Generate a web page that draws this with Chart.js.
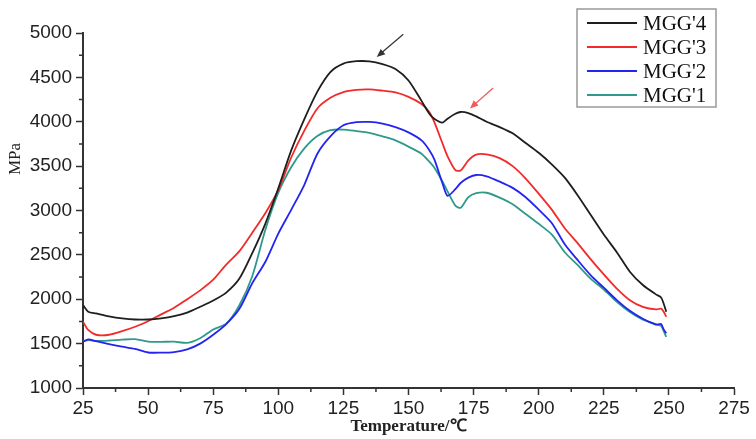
<!DOCTYPE html>
<html lang="en">
<head>
<meta charset="UTF-8">
<title>MGG modulus vs temperature</title>
<script src="https://cdn.jsdelivr.net/npm/chart.js"></script>
<style>
    body { margin: 0; background: #fff; }
    #wrap { width: 756px; height: 439px; }
</style>
</head>
<body>
<div id="wrap"><canvas id="chart"></canvas></div>
<script>
    // temperature grid (℃)
    const temps = [25, 27, 30, 35, 40, 45, 50, 55, 60, 65, 70, 75, 80, 85, 90, 95, 100, 105, 110, 115, 120,
        125, 130, 135, 140, 145, 150, 155, 158, 160, 163, 165, 168, 170, 173, 176, 180, 185, 190, 195, 200,
        205, 210, 215, 220, 225, 230, 235, 240, 245, 247, 248, 249];

    // MPa values
    const mgg4 = [1935, 1860, 1840, 1808, 1785, 1772, 1772, 1785, 1810, 1850, 1915, 1985, 2075, 2230, 2520, 2850, 3250,
        3680, 4030, 4340, 4560, 4655, 4682, 4680, 4650, 4595, 4465, 4235, 4090, 4030, 3990, 4035, 4090, 4110, 4098, 4060,
        4000, 3940, 3870, 3760, 3650, 3520, 3370, 3170, 2950, 2730, 2530, 2310, 2160, 2055, 2020, 1950, 1860];
    const mgg3 = [1747, 1654, 1600, 1600, 1640, 1690, 1752, 1830, 1905, 2000, 2100, 2220, 2390, 2540, 2750, 2970, 3230,
        3600, 3900, 4150, 4270, 4335, 4360, 4365, 4350, 4330, 4280, 4200, 4110, 3990, 3760, 3610, 3455, 3450, 3565, 3630,
        3632, 3590, 3500, 3360, 3190, 3010, 2800, 2630, 2450, 2280, 2120, 1990, 1915, 1885, 1895, 1860, 1803];
    const mgg2 = [1520, 1548, 1528, 1495, 1465, 1440, 1400, 1398, 1405, 1435, 1500, 1600, 1720, 1890, 2180, 2420, 2740,
        3010, 3290, 3640, 3835, 3960, 3995, 3998, 3980, 3940, 3880, 3790, 3680, 3570, 3310, 3165, 3240, 3310, 3370, 3400,
        3385, 3325, 3255, 3150, 3010, 2860, 2620, 2440, 2270, 2130, 1990, 1870, 1780, 1715, 1720, 1660, 1617];
    const mgg1 = [1525, 1540, 1530, 1535, 1545, 1550, 1522, 1520, 1522, 1508, 1560, 1660, 1725, 1930, 2260, 2780, 3200,
        3490, 3700, 3840, 3905, 3912, 3895, 3875, 3835, 3790, 3720, 3640, 3550, 3480, 3330, 3215, 3055, 3030, 3150, 3195,
        3200, 3145, 3070, 2960, 2850, 2730, 2530, 2385, 2230, 2110, 1970, 1855, 1770, 1720, 1700, 1640, 1575];

    const seriesNames = ["MGG'4", "MGG'3", "MGG'2", "MGG'1"];
    const seriesData = [mgg4, mgg3, mgg2, mgg1];
    const seriesColors = ['#1e1e1e', '#f22a2a', '#2424f0', '#2f9a8c'];

    // axis ticks
    const xTicks = [25, 50, 75, 100, 125, 150, 175, 200, 225, 250, 275];
    const yTicks = [1000, 1500, 2000, 2500, 3000, 3500, 4000, 4500, 5000];

    // arrows: [tailT, tailMPa, headT, headMPa]
    const arrowBlack = [148, 4985, 137.8, 4730];
    const arrowRed = [182.5, 4380, 173.6, 4150];

    function drawArrow(ctx, xs, ys, a, color) {
        const x1 = xs.getPixelForValue(a[0]), y1 = ys.getPixelForValue(a[1]);
        const x2 = xs.getPixelForValue(a[2]), y2 = ys.getPixelForValue(a[3]);
        const ang = Math.atan2(y2 - y1, x2 - x1);
        ctx.strokeStyle = color;
        ctx.fillStyle = color;
        ctx.lineWidth = 1.2;
        ctx.beginPath();
        ctx.moveTo(x1, y1);
        ctx.lineTo(x2 - 6 * Math.cos(ang), y2 - 6 * Math.sin(ang));
        ctx.stroke();
        ctx.beginPath();
        ctx.moveTo(x2, y2);
        ctx.lineTo(x2 - 9 * Math.cos(ang - 0.4), y2 - 9 * Math.sin(ang - 0.4));
        ctx.lineTo(x2 - 9 * Math.cos(ang + 0.4), y2 - 9 * Math.sin(ang + 0.4));
        ctx.closePath();
        ctx.fill();
    }

    const extras = {
        id: 'extras',
        afterDraw(chart) {
            const ctx = chart.ctx;
            const xs = chart.scales.x, ys = chart.scales.y;
            ctx.save();

            // minor ticks
            ctx.strokeStyle = '#333';
            ctx.lineWidth = 1.5;
            ctx.beginPath();
            for (let i = 0; i < yTicks.length - 1; i++) {
                const y = ys.getPixelForValue((yTicks[i] + yTicks[i + 1]) / 2);
                ctx.moveTo(xs.left, y);
                ctx.lineTo(xs.left - 4, y);
            }
            for (let i = 0; i < xTicks.length - 1; i++) {
                const x = xs.getPixelForValue((xTicks[i] + xTicks[i + 1]) / 2);
                ctx.moveTo(x, ys.bottom);
                ctx.lineTo(x, ys.bottom + 4);
            }
            ctx.stroke();

            // y axis title sits above the middle in the original
            ctx.save();
            ctx.translate(16, 159);
            ctx.rotate(-Math.PI / 2);
            ctx.font = '17px "Liberation Serif", serif';
            ctx.fillStyle = '#222';
            ctx.textAlign = 'center';
            ctx.textBaseline = 'middle';
            ctx.fillText('MPa', 0, 0);
            ctx.restore();

            drawArrow(ctx, xs, ys, arrowBlack, '#333');
            drawArrow(ctx, xs, ys, arrowRed, '#f05a5a');

            // legend box
            const bx = 577, by = 9, bw = 139, bh = 98;
            ctx.fillStyle = '#fff';
            ctx.fillRect(bx, by, bw, bh);
            ctx.strokeStyle = '#999';
            ctx.lineWidth = 1.5;
            ctx.strokeRect(bx, by, bw, bh);
            ctx.font = '21px "Liberation Serif", serif';
            ctx.textBaseline = 'middle';
            seriesNames.forEach((name, i) => {
                const y = by + 14 + i * 24;
                ctx.strokeStyle = seriesColors[i];
                ctx.lineWidth = 2;
                ctx.beginPath();
                ctx.moveTo(bx + 10, y);
                ctx.lineTo(bx + 60, y);
                ctx.stroke();
                ctx.fillStyle = '#111';
                ctx.fillText(name, bx + 66, y + 1);
            });
            ctx.restore();
        }
    };

    const tickFont = { family: '"Liberation Sans", Arial, sans-serif', size: 19 };

    new Chart(document.getElementById('chart'), {
        type: 'line',
        data: {
            datasets: seriesNames.map((name, i) => ({
                label: name,
                data: temps.map((t, j) => ({ x: t, y: seriesData[i][j] })),
                borderColor: seriesColors[i],
                backgroundColor: seriesColors[i],
                fill: false
            }))
        },
        options: {
            animation: false,
            responsive: true,
            maintainAspectRatio: false,
            layout: { padding: { top: 33, right: 22, left: 0, bottom: 0 } },
            elements: {
                point: { radius: 0 },
                line: { borderWidth: 1.8, tension: 0.25 }
            },
            plugins: {
                legend: { display: false },
                tooltip: { enabled: false }
            },
            scales: {
                x: {
                    type: 'linear',
                    min: 25,
                    max: 275,
                    afterBuildTicks: s => { s.ticks = xTicks.map(v => ({ value: v })); },
                    ticks: { font: tickFont, color: '#222', padding: 2, maxRotation: 0, autoSkip: false, callback: v => String(v) },
                    grid: { drawOnChartArea: false, tickLength: 7, tickColor: '#333', tickWidth: 1.5 },
                    border: { color: '#333', width: 2 },
                    title: {
                        display: true,
                        text: 'Temperature/℃',
                        font: { family: '"Liberation Serif", serif', size: 17, weight: 'bold' },
                        color: '#222',
                        padding: { top: 0, bottom: 2 }
                    },
                    afterFit: s => { s.height = 51; }
                },
                y: {
                    min: 1000,
                    max: 5000,
                    afterBuildTicks: s => { s.ticks = yTicks.map(v => ({ value: v })); },
                    ticks: { font: tickFont, color: '#222', padding: 4, callback: v => String(v) },
                    grid: { drawOnChartArea: false, tickLength: 7, tickColor: '#333', tickWidth: 1.5 },
                    border: { color: '#333', width: 2 },
                    afterFit: s => { s.width = 83; }
                }
            }
        },
        plugins: [extras]
    });
</script>
</body>
</html>
